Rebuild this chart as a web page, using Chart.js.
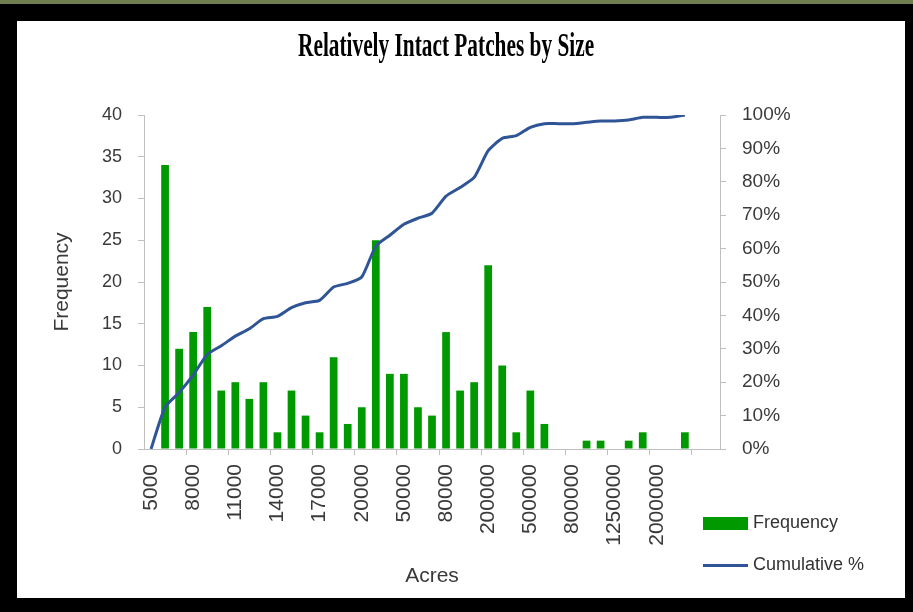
<!DOCTYPE html>
<html>
<head>
<meta charset="utf-8">
<script src="https://cdn.jsdelivr.net/npm/chart.js@4.4.0/dist/chart.umd.min.js"></script>
<style>
  html, body { margin: 0; padding: 0; }
  body { width: 913px; height: 612px; background: #000; position: relative; overflow: hidden; font-family: "Liberation Sans", Arial, sans-serif; }
  #topStrip { position: absolute; left: 0; top: 0; width: 913px; height: 4px; background: #6f7f4f; }
  #panel { position: absolute; left: 17px; top: 21px; width: 888px; height: 577px; background: #fff; overflow: hidden; }
  #chartBox { position: absolute; left: 0; top: 0; width: 888px; height: 577px; }
  #title { position: absolute; left: -15px; top: 5px; width: 888px; text-align: center; white-space: nowrap; }
  #title span { display: inline-block; font-family: "Liberation Serif", serif; font-weight: bold; font-size: 34px; color: #000; transform-origin: center; }
  .leg { position: absolute; font-size: 18px; color: #333; white-space: nowrap; }
  .sw { position: absolute; }
</style>
</head>
<body>
<div id="topStrip"></div>
<div id="panel">
  <div id="chartBox"><canvas id="chart"></canvas></div>
  <div id="title"><span>Relatively Intact Patches by Size</span></div>
  <div id="legend"></div>
</div>
<script>
// bin labels (only every third one is printed on the axis)
const acres = [
  '5000', '', '', '8000', '', '', '11000', '', '', '14000', '', '', '17000', '', '',
  '20000', '', '', '50000', '', '', '80000', '', '', '200000', '', '', '500000', '', '',
  '800000', '', '', '1250000', '', '', '2000000', '', '', '', ''
];

// number of patches per bin
const frequency = [
  0, 34, 12, 14, 17, 7, 8, 6, 8, 2, 7, 4, 2, 11, 3,
  5, 25, 9, 9, 5, 4, 14, 7, 8, 22, 10, 2, 7, 3, 0,
  0, 1, 1, 0, 1, 2, 0, 0, 2, null, null
];

// cumulative percent
const cumulative = [
  0, 12.5, 16.9, 22.1, 28.3, 30.9, 33.8, 36.0, 39.0, 39.7, 42.3, 43.8, 44.5, 48.5, 49.6,
  51.5, 60.7, 64.0, 67.3, 69.1, 70.6, 75.7, 78.3, 81.3, 89.3, 93.0, 93.8, 96.3, 97.4, 97.4,
  97.4, 97.8, 98.2, 98.2, 98.5, 99.3, 99.3, 99.3, 100, null, null
];

const greenBar = '#009900';
const blueLine = '#2f5597';
const axisGray = '#bfbfbf';
const labelGray = '#3a3a3a';

// squeeze the title like the condensed face in the original
const titleSpan = document.querySelector('#title span');
titleSpan.style.transform = 'scaleX(' + (296 / titleSpan.offsetWidth) + ')';

const ctx = document.getElementById('chart').getContext('2d');
const chart = new Chart(ctx, {
    data: {
        labels: acres,
        datasets: [{
            type: 'line',
            label: 'Cumulative %',
            data: cumulative,
            yAxisID: 'y2',
            borderColor: blueLine,
            backgroundColor: blueLine,
            borderWidth: 3,
            pointRadius: 0,
            tension: 0.2,
            order: 0
        }, {
            type: 'bar',
            label: 'Frequency',
            data: frequency,
            yAxisID: 'y',
            backgroundColor: greenBar,
            barPercentage: 0.55,
            categoryPercentage: 1,
            order: 1
        }]
    },
    options: {
        responsive: true,
        maintainAspectRatio: false,
        animation: false,
        layout: { padding: { top: 94, left: 0, right: 0, bottom: 0 } },
        scales: {
            x: {
                offset: true,
                grid: {
                    offset: true,
                    drawOnChartArea: false,
                    drawTicks: true,
                    tickLength: 6,
                    color: function (c) {
                        return (c.index > 0 && c.index % 3 === 0 && c.index < acres.length) ? axisGray : 'rgba(0,0,0,0)';
                    }
                },
                border: { display: true, color: axisGray, width: 1 },
                ticks: {
                    autoSkip: false,
                    maxRotation: 90,
                    minRotation: 90,
                    padding: 9,
                    color: labelGray,
                    font: { family: 'Liberation Sans', size: 21 }
                },
                title: {
                    display: true,
                    text: 'Acres',
                    color: labelGray,
                    font: { family: 'Liberation Sans', size: 21 },
                    padding: { top: 0, bottom: 9 }
                },
                afterFit: function (s) { s.height = 149; }
            },
            y: {
                position: 'left',
                min: 0,
                max: 40,
                grid: { drawOnChartArea: false, drawTicks: true, tickLength: 6, color: axisGray },
                border: { display: true, color: axisGray, width: 1 },
                ticks: {
                    stepSize: 5,
                    padding: 16,
                    color: labelGray,
                    font: { family: 'Liberation Sans', size: 18 }
                },
                title: {
                    display: true,
                    text: 'Frequency',
                    color: labelGray,
                    font: { family: 'Liberation Sans', size: 21 },
                    padding: { top: 33, bottom: 0 }
                },
                afterFit: function (s) { s.width = 127; }
            },
            y2: {
                position: 'right',
                min: 0,
                max: 100,
                grid: { drawOnChartArea: false, drawTicks: true, tickLength: 6, color: axisGray },
                border: { display: true, color: axisGray, width: 1 },
                ticks: {
                    stepSize: 10,
                    padding: 16,
                    color: labelGray,
                    font: { family: 'Liberation Sans', size: 19 },
                    callback: function (v) { return v + '%'; }
                },
                afterFit: function (s) { s.width = 185; }
            }
        },
        plugins: {
            legend: { display: false },
            tooltip: { enabled: false }
        }
    }
});

// legend in the lower right corner, built from the datasets
const legend = document.getElementById('legend');
const rows = [chart.data.datasets[1], chart.data.datasets[0]];
rows.forEach(function (ds, i) {
    const y = 502 + i * 42;
    const sw = document.createElement('div');
    sw.className = 'sw';
    if (ds.type === 'bar') {
        sw.style.cssText = 'left:686px;top:' + (y - 6) + 'px;width:45px;height:13px;background:' + ds.backgroundColor;
    } else {
        sw.style.cssText = 'left:686px;top:' + (y - 1) + 'px;width:45px;height:3px;background:' + ds.borderColor;
    }
    legend.appendChild(sw);
    const tx = document.createElement('div');
    tx.className = 'leg';
    tx.style.left = '736px';
    tx.style.top = (y - 11) + 'px';
    tx.textContent = ds.label;
    legend.appendChild(tx);
});
</script>
</body>
</html>
